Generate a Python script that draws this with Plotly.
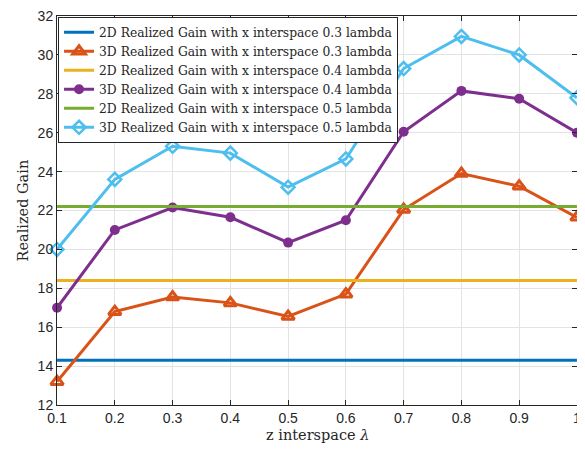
import plotly.graph_objects as go

z_space = [0.1, 0.2, 0.3, 0.4, 0.5, 0.6, 0.7, 0.8, 0.9, 1.0]
gain3d_03 = [13.2, 16.8, 17.55, 17.25, 16.55, 17.7, 22.05, 23.9, 23.25, 21.65]
gain3d_04 = [17.0, 21.0, 22.15, 21.65, 20.35, 21.5, 26.05, 28.15, 27.75, 26.0]
gain3d_05 = [20.0, 23.6, 25.3, 24.95, 23.2, 24.65, 29.3, 30.95, 30.0, 27.8]
gain2d_03 = 14.3
gain2d_04 = 18.4
gain2d_05 = 22.2

x_ticks = [0.1, 0.2, 0.3, 0.4, 0.5, 0.6, 0.7, 0.8, 0.9, 1.0]
x_tick_labels = ["0.1", "0.2", "0.3", "0.4", "0.5", "0.6", "0.7", "0.8", "0.9", "1"]
y_ticks = [12, 14, 16, 18, 20, 22, 24, 26, 28, 30, 32]

names = [
    "2D Realized Gain with x interspace 0.3 lambda",
    "3D Realized Gain with x interspace 0.3 lambda",
    "2D Realized Gain with x interspace 0.4 lambda",
    "3D Realized Gain with x interspace 0.4 lambda",
    "2D Realized Gain with x interspace 0.5 lambda",
    "3D Realized Gain with x interspace 0.5 lambda",
]

c_blue, c_orange, c_yellow = "#0072BD", "#D95319", "#EDB120"
c_purple, c_green, c_cyan = "#7E2F8E", "#77AC30", "#4DBEEE"

fig = go.Figure()
x_ends = [z_space[0], z_space[-1]]

fig.add_trace(go.Scatter(x=x_ends, y=[gain2d_03, gain2d_03], mode="lines",
                         line=dict(color=c_blue, width=3), name=names[0], cliponaxis=False))
fig.add_trace(go.Scatter(x=z_space, y=gain3d_03, mode="lines+markers",
                         line=dict(color=c_orange, width=3),
                         marker=dict(symbol="triangle-up-open", size=11,
                                     color=c_orange, line=dict(width=3, color=c_orange)),
                         name=names[1], cliponaxis=False))
fig.add_trace(go.Scatter(x=x_ends, y=[gain2d_04, gain2d_04], mode="lines",
                         line=dict(color=c_yellow, width=3), name=names[2], cliponaxis=False))
fig.add_trace(go.Scatter(x=z_space, y=gain3d_04, mode="lines+markers",
                         line=dict(color=c_purple, width=3),
                         marker=dict(symbol="circle", size=10, color=c_purple),
                         name=names[3], cliponaxis=False))
fig.add_trace(go.Scatter(x=x_ends, y=[gain2d_05, gain2d_05], mode="lines",
                         line=dict(color=c_green, width=3), name=names[4], cliponaxis=False))
fig.add_trace(go.Scatter(x=z_space, y=gain3d_05, mode="lines+markers",
                         line=dict(color=c_cyan, width=3),
                         marker=dict(symbol="diamond-open", size=10,
                                     color=c_cyan, line=dict(width=2.5, color=c_cyan)),
                         name=names[5], cliponaxis=False))

axis_common = dict(
    showline=True, linecolor="#262626", linewidth=1, mirror="ticks",
    ticks="inside", ticklen=5, tickcolor="#262626",
    showgrid=True, gridcolor="#E3E3E3", gridwidth=1, zeroline=False,
    automargin=False, ticklabeloverflow="allow",
    tickfont=dict(family="Liberation Sans, Arial", size=14, color="#262626"),
)

title_font = dict(family="DejaVu Serif, Liberation Serif", size=14.5, color="#262626")

# The page body adds an 8px offset; figure size and margins compensate for it.
fig.update_layout(
    width=577, height=441,
    margin=dict(l=49, r=8, t=8, b=44),
    paper_bgcolor="white", plot_bgcolor="white",
    showlegend=True,
    legend=dict(
        x=0.002, y=0.998, xanchor="left", yanchor="top",
        bgcolor="white", bordercolor="#262626", borderwidth=1,
        font=dict(family="DejaVu Serif, Liberation Serif", size=12.3, color="#262626"),
        tracegroupgap=0, itemwidth=30,
    ),
    xaxis=dict(range=[0.0999, 1.0001], tickvals=x_ticks, ticktext=x_tick_labels, **axis_common),
    yaxis=dict(range=[11.999, 32.001], tickvals=y_ticks, **axis_common),
    annotations=[
        dict(text="z interspace <i>λ</i>", xref="paper", yref="paper", x=0.5, y=0,
             yshift=-30, xanchor="center", yanchor="middle", showarrow=False, font=title_font),
        dict(text="Realized Gain", xref="paper", yref="paper", x=0, y=0.5,
             xshift=-35, xanchor="center", yanchor="middle", showarrow=False,
             textangle=-90, font=title_font),
    ],
)

fig.write_html("out.html")
